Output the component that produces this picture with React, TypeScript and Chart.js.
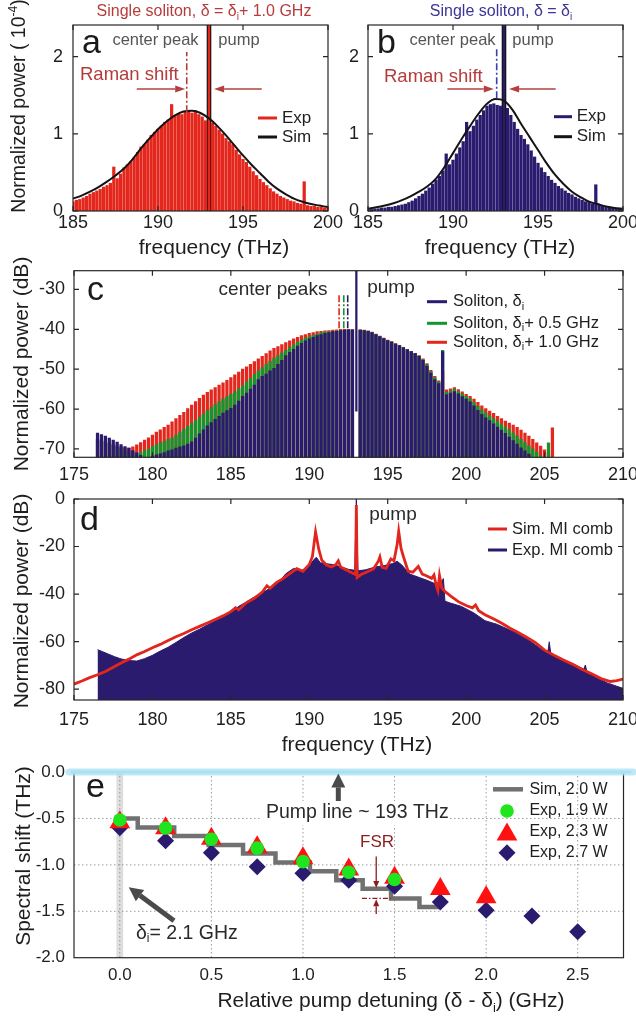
import React, { useEffect, useRef } from 'react';
import { Chart, registerables } from 'chart.js';

Chart.register(...registerables);

const FONT = "'Liberation Sans', Arial, Helvetica, sans-serif";

// ---------------- colours ----------------
const RED = '#e4271d';
const NAVY = '#2b1b6e';
const GREEN = '#15942e';
const SIM_BLACK = '#141414';
const ANNOT_RED = '#b53b3b';
const TXT = '#1e1e1e';

// ---------------- panels a & b (linear power, 1e-4) ----------------
const AB_START = 185;
const AB_STEP = 0.2;
const PUMP_THZ = 193;
const AB_PUMP_LEVEL = 2.6;
const AB_X_TICKS = [185, 190, 195, 200];
const AB_Y_TICKS = [0, 1, 2];

const aExp = [
  0.12, 0.14, 0.15, 0.17, 0.19, 0.22, 0.24, 0.26, 0.28, 0.31,
  0.33, 0.36, 0.57, 0.42, 0.48, 0.56, 0.60, 0.64, 0.69, 0.76,
  0.83, 0.86, 0.92, 0.98, 1.02, 1.06, 1.10, 1.15, 1.18, 1.38,
  1.24, 1.26, 1.25, 1.28, 1.30, 1.27, 1.30, 1.25, 1.22, 1.17,
  null, 1.14, 1.10, 1.05, 1.00, 0.94, 0.90, 0.86, 0.79, 0.73,
  0.67, 0.63, 0.57, 0.51, 0.46, 0.41, 0.37, 0.33, 0.29, 0.25,
  0.22, 0.19, 0.17, 0.15, 0.13, 0.12, 0.10, 0.09, 0.38, 0.07,
  0.06, 0.06, 0.05, 0.05, 0.04, 0.04,
];
const bExp = [
  0.02, 0.02, 0.03, 0.03, 0.04, 0.04, 0.05, 0.05, 0.06, 0.07,
  0.08, 0.09, 0.11, 0.13, 0.16, 0.19, 0.22, 0.26, 0.30, 0.35,
  0.40, 0.45, 0.52, 0.74, 0.60, 0.66, 0.74, 0.82, 0.90, 1.15,
  1.03, 1.10, 1.18, 1.24, 1.30, 1.36, 1.38, 1.39, 1.37, 1.36,
  null, 1.33, 1.24, 1.15, 1.06, 0.98, 0.93, 0.86, 0.78, 0.70,
  0.62, 0.56, 0.50, 0.45, 0.40, 0.36, 0.32, 0.29, 0.26, 0.23,
  0.21, 0.18, 0.16, 0.14, 0.12, 0.11, 0.09, 0.34, 0.08, 0.07,
  0.06, 0.05, 0.04, 0.03, 0.03, 0.02,
];
const SIM_FREQ = [
  185, 185.5, 186, 186.5, 187, 187.5, 188, 188.5, 189, 189.5, 190, 190.5, 191, 191.5, 192, 192.5,
  193, 193.5, 194, 194.5, 195, 195.5, 196, 196.5, 197, 197.5, 198, 198.5, 199, 199.5, 200,
];
const aSim = [
  0.16, 0.20, 0.25, 0.31, 0.38, 0.46, 0.55, 0.67, 0.81, 0.94, 1.06, 1.16, 1.24, 1.29, 1.30, 1.27,
  1.20, 1.10, 0.98, 0.85, 0.72, 0.60, 0.49, 0.38, 0.29, 0.22, 0.16, 0.12, 0.09, 0.07, 0.05,
];
const bSim = [
  0.03, 0.05, 0.07, 0.10, 0.14, 0.19, 0.25, 0.32, 0.42, 0.57, 0.75, 0.93, 1.10, 1.26, 1.39, 1.45,
  1.43, 1.31, 1.13, 0.96, 0.79, 0.62, 0.47, 0.35, 0.25, 0.18, 0.12, 0.09, 0.06, 0.04, 0.03,
];
const aCenterPeak = 191.69;
const bCenterPeak = 192.57;

// ---------------- panel c (dB) ----------------
const C_START = 176.5;
const C_STEP = 0.25;
const C_FLOOR = -80;
const C_PUMP_TOP = -20;
const C_PUMP_NOTCH = -60.5;
const CD_X_TICKS = [175, 180, 185, 190, 195, 200, 205, 210];
const C_Y_TICKS = [-70, -60, -50, -40, -30];

const cSoliton = [
  -66.0, -66.4, -66.8, -67.3, -67.8, -68.3, -68.9, -69.4, -69.8, -70.4, -71.0, -71.6, null, null,
  -71.8, -71.5, -71.2, -70.9, -70.5, -70.2, -69.8, -69.5, -69.2, -68.8, -68.2, -67.3, -66.2, -65.2, -64.2, -63.4, -62.6, -61.8, -61.0, -60.4,
  -59.8, -59.0, -58.0, -56.8, -56.0, -55.0, -54.0, -52.6, -51.8, -51.2, -50.4, -49.8, -48.8, -47.8, -46.6, -45.8, -45.0, -44.2, -43.5, -42.9,
  -42.4, -42.0, -41.6, -41.3, -41.0, -40.8, -40.6, -40.5, -40.3, -40.2, -40.1, -40.2,
  null,
  -40.2, -40.3, -40.5, -40.8, -41.3, -41.8, -42.3, -42.8, -43.2, -43.7, -44.1, -44.6, -45.1, -45.6, -46.1, -46.8, -47.8, -49.2, -51.0, -52.6, -53.6, -45.6, -56.4, -56.0, -55.6, -56.2, -56.9,
  -57.5, -58.2, -59.2, -60.3, -61.3, -62.2, -62.9, -63.7, -64.5, -65.3, -66.1, -67.0, -67.9, -68.8, -69.7, -70.5, -71.3, null, null, null, null, null, null,
];
const cSoliton05 = [
  -67.6, -67.9, -68.2, -68.6, -69.0, -69.4, -69.8, -70.2, -70.6, -70.9, -71.1, -70.9, -70.4, -70.0,
  -69.4, -69.0, -68.5, -68.1, -67.6, -67.2, -66.6, -65.8, -65.0, -64.3, -63.6, -62.8, -62.0, -61.2, -60.3, -59.6, -58.9, -58.2, -57.5, -56.9,
  -56.3, -55.6, -54.9, -54.2, -53.2, -52.3, -51.3, -50.4, -49.6, -48.8, -48.0, -47.2, -46.6, -45.9, -45.2, -44.5, -43.8, -43.2, -42.7, -42.2,
  -41.8, -41.5, -41.2, -40.9, -40.7, -40.6, -40.5, -40.4, -40.3, -40.2, -40.1, -40.1,
  null,
  -40.2, -40.3, -40.5, -40.8, -41.3, -41.8, -42.3, -42.8, -43.2, -43.7, -44.1, -44.6, -45.1, -45.6, -46.1, -46.7, -47.6, -48.9, -50.6, -52.1, -53.2, -45.3, -55.8, -55.5, -55.0, -55.6, -56.2,
  -56.8, -57.4, -58.3, -59.3, -60.2, -61.0, -61.7, -62.4, -63.1, -63.8, -64.5, -65.2, -66.0, -66.8, -67.6, -68.4, -69.2, -70.0, -70.8, -71.8, null, -68.5, null,
];
const cSoliton10 = [
  -67.6, -67.9, -68.2, -68.5, -68.9, -69.2, -69.5, -69.7, -69.8, -69.5, -69.0, -68.4, -67.8, -67.2,
  -66.5, -65.8, -65.2, -64.6, -64.0, -63.2, -62.4, -61.6, -60.8, -59.9, -59.0, -58.1, -57.3, -56.5, -55.8, -55.2, -54.6, -54.0, -53.4, -52.8,
  -52.1, -51.4, -50.7, -50.0, -49.4, -48.8, -48.1, -47.4, -46.8, -46.1, -45.4, -44.8, -44.3, -43.8, -43.3, -42.9, -42.4, -42.0, -41.6, -41.3,
  -41.0, -40.8, -40.6, -40.5, -40.4, -40.3, -40.2, -40.1, -40.0, -40.0, -40.0, -40.0,
  null,
  -40.1, -40.2, -40.4, -40.7, -41.2, -41.7, -42.2, -42.7, -43.1, -43.6, -44.0, -44.5, -45.0, -45.5, -46.0, -46.6, -47.4, -48.6, -50.3, -51.8, -52.9, -50.5, -55.2, -54.9, -54.6, -55.1, -55.7,
  -56.3, -56.8, -57.5, -58.3, -59.2, -59.9, -60.5, -61.1, -61.8, -62.4, -63.0, -63.5, -64.0, -64.6, -65.3, -66.0, -66.8, -67.6, -68.5, -69.3, -70.2, -71.0, -64.7,
];
// centre-peak markers: delta_i + 1.0 GHz, delta_i + 0.5 GHz, delta_i
const cCenterPeaks = [191.9, 192.2, 192.45];

// ---------------- panel d (dB) ----------------
const D_Y_TICKS = [-80, -60, -40, -20, 0];
const dExpFreq = [
  176.5, 176.8, 177.2, 177.6, 178.0, 178.5, 179.0, 179.5, 180.0, 180.5, 181.0, 181.5, 182.0, 182.5, 183.0, 183.5,
  184.0, 184.5, 185.0, 185.5, 186.0, 186.5, 187.0, 187.5, 188.0, 188.5, 189.0, 189.5, 190.0, 190.3, 190.45, 190.7,
  191.0, 191.5, 192.0, 192.5, 192.9, 193.0, 193.1, 193.6, 194.2, 194.8, 195.3, 195.6, 195.9, 196.4, 197.0, 197.5,
  198.0, 198.4, 198.55, 198.65, 199.0, 199.7, 200.5, 201.2, 202.0, 202.6, 203.2, 204.0, 204.8, 205.2, 205.3, 205.4,
  206.0, 206.8, 207.5, 207.6, 207.7, 208.3, 209.0, 209.6, 210.0,
];
const dExpPow = [
  -63.4, -64.2, -65.3, -66.4, -67.3, -68.0, -68.2, -67.2, -65.8, -64.0, -62.4, -60.4, -58.3, -56.4, -54.8, -53.0,
  -51.4, -49.6, -47.8, -45.2, -43.3, -41.2, -39.5, -37.6, -35.5, -31.5, -29.2, -30.2, -28.0, -25.5, -24.5, -26.8,
  -27.2, -27.6, -28.5, -29.6, -30.0, 0, -30.2, -29.8, -28.6, -28.0, -27.2, -26.2, -27.8, -31.6, -33.0, -34.2,
  -35.6, -35.0, -33.5, -43.0, -43.8, -45.2, -48.0, -51.2, -52.8, -54.6, -56.4, -59.5, -63.2, -64.8, -60.1, -65.3,
  -67.0, -69.5, -71.6, -69.9, -72.8, -75.2, -77.4, -78.8, -79.7,
];
const dSimFreq = [
  175.0, 175.5, 176.0, 176.5, 177.0, 177.5, 178.0, 178.5, 179.0, 179.5,
  180.0, 180.5, 181.0, 181.5, 182.0, 182.5, 183.0, 183.5, 184.0, 184.5,
  185.0, 185.3, 185.5, 186.0, 186.5, 187.0, 187.3, 187.5, 187.9, 188.3,
  188.8, 189.2, 189.6, 190.0, 190.2, 190.4, 190.6, 190.8, 191.1, 191.4,
  191.7, 191.85, 192.0, 192.4, 192.8, 192.95, 193.0, 193.05, 193.3, 193.7,
  194.1, 194.4, 194.5, 194.65, 194.9, 195.2, 195.4, 195.6, 195.7, 195.85,
  196.0, 196.3, 196.6, 196.95, 197.2, 197.5, 197.8, 197.95, 198.1, 198.2,
  198.3, 198.45, 198.7, 199.0, 199.5, 200.0, 200.4, 200.6, 200.8, 201.2,
  201.8, 202.3, 202.8, 203.2, 203.8, 204.4, 205.0, 205.6, 206.2, 206.8,
  207.4, 208.0, 208.6, 209.2, 209.6, 210.0,
];
const dSimPow = [
  -77.9, -76.6, -75.2, -74.0, -72.6, -70.8, -69.0, -67.4, -65.6, -64.2,
  -62.6, -61.2, -59.6, -58.0, -56.6, -55.0, -53.6, -52.2, -50.7, -49.2,
  -47.4, -45.8, -46.6, -43.6, -41.8, -39.2, -36.5, -37.6, -35.2, -33.6,
  -31.2, -29.3, -30.4, -27.6, -24.2, -13.8, -21.0, -25.8, -27.8, -28.6,
  -27.6, -26.0, -28.6, -30.0, -31.4, -31.8, -2.5, -33.0, -31.8, -30.6,
  -29.4, -26.2, -24.4, -28.8, -29.2, -25.2, -26.0, -19.2, -13.6, -20.8,
  -24.2, -30.4, -30.8, -28.4, -31.6, -32.4, -33.4, -32.0, -36.6, -38.6,
  -32.2, -37.6, -39.2, -40.8, -43.2, -44.8, -45.8, -44.6, -47.0, -48.7,
  -50.6, -52.4, -54.4, -55.8, -58.0, -60.4, -63.6, -65.8, -67.8, -69.6,
  -71.8, -73.6, -75.6, -76.8, -76.4, -75.8,
];

// ---------------- panel e ----------------
const E_X_TICKS = [0, 0.5, 1, 1.5, 2, 2.5];
const E_Y_TICKS = [-2, -1.5, -1, -0.5, 0];
const eDetuning = [0, 0.25, 0.5, 0.75, 1, 1.25, 1.5, 1.75, 2, 2.25, 2.5];
const eExp19 = [-0.517, -0.603, -0.724, -0.82, -0.965, -1.079, -1.158];
const eExp23 = [-0.54, -0.607, -0.72, -0.81, -0.93, -1.05, -1.14, -1.26, -1.35];
const eExp27 = [-0.60, -0.74, -0.87, -1.02, -1.09, -1.165, -1.23, -1.40, -1.49, -1.55, -1.72];
const eSimDetuning = [-0.02, 0.098, 0.297, 0.485, 0.673, 0.85, 1.038, 1.182, 1.326, 1.481, 1.636, 1.747];
const eSimShift = [-0.5, -0.597, -0.69, -0.786, -0.879, -0.975, -1.068, -1.165, -1.258, -1.362, -1.455, -1.455];

// ---------------- helpers ----------------
type Seg = { t: string; s?: 'sub' | 'sup' };

function combGrid(start: number, step: number, n: number): number[] {
  const out: number[] = [];
  for (let i = 0; i < n; i++) out.push(Math.round((start + i * step) * 1000) / 1000);
  return out;
}
function bars(freq: number[], vals: (number | null)[]) {
  const out: any[] = [];
  vals.forEach((v, i) => { if (v !== null) out.push({ x: freq[i], y: v }); });
  return out;
}
function floatBars(freq: number[], vals: (number | null)[], floor: number) {
  const out: any[] = [];
  vals.forEach((v, i) => { if (v !== null) out.push({ x: freq[i], y: [floor, v] }); });
  return out;
}
function xy(xs: number[], ys: number[]) {
  return ys.map((y, i) => ({ x: xs[i], y }));
}

function rich(ctx: any, segs: Seg[], x: number, y: number, size: number, color: string, align: string = 'left') {
  ctx.save();
  const big = `${size}px ${FONT}`;
  const small = `${Math.round(size * 0.64)}px ${FONT}`;
  let w = 0;
  for (const sg of segs) { ctx.font = sg.s ? small : big; w += ctx.measureText(sg.t).width; }
  let cx = align === 'center' ? x - w / 2 : align === 'right' ? x - w : x;
  ctx.textAlign = 'left';
  ctx.textBaseline = 'middle';
  ctx.fillStyle = color;
  for (const sg of segs) {
    ctx.font = sg.s ? small : big;
    const dy = sg.s === 'sub' ? size * 0.3 : sg.s === 'sup' ? -size * 0.33 : 0;
    ctx.fillText(sg.t, cx, y + dy);
    cx += ctx.measureText(sg.t).width;
  }
  ctx.restore();
  return w;
}
function vrich(ctx: any, segs: Seg[], cx: number, cy: number, size: number, color: string) {
  ctx.save();
  ctx.translate(cx, cy);
  ctx.rotate(-Math.PI / 2);
  rich(ctx, segs, 0, 0, size, color, 'center');
  ctx.restore();
}
function letter(ctx: any, ch: string, x: number, baseline: number) {
  ctx.save();
  ctx.font = `34px ${FONT}`;
  ctx.fillStyle = '#1a1a1a';
  ctx.textAlign = 'left';
  ctx.textBaseline = 'alphabetic';
  ctx.fillText(ch, x, baseline);
  ctx.restore();
}
function line(ctx: any, x1: number, y1: number, x2: number, y2: number, color: string, lw: number, dash: number[] = [], cap = 'butt') {
  ctx.save();
  ctx.strokeStyle = color;
  ctx.lineWidth = lw;
  ctx.lineCap = cap;
  ctx.setLineDash(dash);
  ctx.beginPath();
  ctx.moveTo(x1, y1);
  ctx.lineTo(x2, y2);
  ctx.stroke();
  ctx.restore();
}
function arrow(ctx: any, x1: number, y1: number, x2: number, y2: number, color: string, lw: number, hl: number, hw: number) {
  const a = Math.atan2(y2 - y1, x2 - x1);
  const bx = x2 - Math.cos(a) * hl;
  const by = y2 - Math.sin(a) * hl;
  line(ctx, x1, y1, bx, by, color, lw);
  ctx.save();
  ctx.fillStyle = color;
  ctx.beginPath();
  ctx.moveTo(x2, y2);
  ctx.lineTo(bx + Math.sin(a) * hw / 2, by - Math.cos(a) * hw / 2);
  ctx.lineTo(bx - Math.sin(a) * hw / 2, by + Math.cos(a) * hw / 2);
  ctx.closePath();
  ctx.fill();
  ctx.restore();
}
function frame(chart: any, xt: number[], yt: number[], tickLen: number) {
  const { ctx, chartArea: a, scales } = chart;
  ctx.save();
  ctx.strokeStyle = '#262626';
  ctx.lineWidth = 1.2;
  ctx.setLineDash([]);
  ctx.strokeRect(a.left, a.top, a.right - a.left, a.bottom - a.top);
  if (tickLen > 0) {
    ctx.beginPath();
    for (const v of xt) {
      const p = scales.x.getPixelForValue(v);
      ctx.moveTo(p, a.bottom); ctx.lineTo(p, a.bottom - tickLen);
      ctx.moveTo(p, a.top); ctx.lineTo(p, a.top + tickLen);
    }
    for (const v of yt) {
      const p = scales.y.getPixelForValue(v);
      ctx.moveTo(a.left, p); ctx.lineTo(a.left + tickLen, p);
      ctx.moveTo(a.right, p); ctx.lineTo(a.right - tickLen, p);
    }
    ctx.stroke();
  }
  ctx.restore();
}

function xAxis(min: number, max: number, ticks: number[], height: number, pad: number, size: number, fmt = (v: number) => String(v)) {
  return {
    type: 'linear', min, max, offset: false,
    grid: { display: false, drawTicks: false, tickLength: 0 }, border: { display: false },
    afterBuildTicks: (s: any) => { s.ticks = ticks.map((v) => ({ value: v })); },
    afterFit: (s: any) => { s.height = height; s.paddingLeft = 0; s.paddingRight = 0; },
    ticks: { padding: pad, autoSkip: false, maxRotation: 0, minRotation: 0, color: TXT, font: { family: FONT, size }, callback: (v: any) => fmt(Number(v)) },
  };
}
function yAxis(min: number, max: number, ticks: number[], width: number, pad: number, size: number, fmt = (v: number) => String(v)) {
  return {
    type: 'linear', min, max,
    grid: { display: false, drawTicks: false, tickLength: 0 }, border: { display: false },
    afterBuildTicks: (s: any) => { s.ticks = ticks.map((v) => ({ value: v })); },
    afterFit: (s: any) => { s.width = width; s.paddingTop = 0; s.paddingBottom = 0; },
    ticks: { padding: pad, autoSkip: false, color: TXT, font: { family: FONT, size }, callback: (v: any) => fmt(Number(v)) },
  };
}
function baseOptions(padding: any, x: any, y: any) {
  return {
    responsive: false, maintainAspectRatio: false, animation: false, events: [],
    layout: { padding },
    plugins: { legend: { display: false }, tooltip: { enabled: false }, title: { display: false } },
    scales: { x, y },
  };
}

// ---------------- panel builders ----------------
function panelAB(which: 'a' | 'b', ox: number, oy: number) {
  const isA = which === 'a';
  const exp = isA ? aExp : bExp;
  const sim = isA ? aSim : bSim;
  const col = isA ? RED : NAVY;
  const freq = combGrid(AB_START, AB_STEP, exp.length);
  const padding = isA ? { left: 0, top: 25, right: 17, bottom: 0 } : { left: 0, top: 25, right: 13, bottom: 0 };
  const yw = isA ? 73 : 23;
  const ypad = isA ? 10 : 9;
  return {
    type: 'bar',
    data: {
      datasets: [
        { type: 'line', label: 'Sim', data: xy(SIM_FREQ, sim), borderColor: SIM_BLACK, borderWidth: 2, pointRadius: 0, tension: 0.4, cubicInterpolationMode: 'monotone', fill: false },
        { type: 'bar', label: 'Exp pump', data: [{ x: PUMP_THZ, y: AB_PUMP_LEVEL }], backgroundColor: col, barThickness: 1.6, grouped: false },
        { type: 'bar', label: 'Exp', data: bars(freq, exp), backgroundColor: col, barThickness: 2.6, grouped: false },
        { type: 'line', label: 'Sim pump', data: [{ x: PUMP_THZ, y: 0 }, { x: PUMP_THZ, y: AB_PUMP_LEVEL }], borderColor: SIM_BLACK, borderWidth: 4.6, pointRadius: 0, fill: false },
      ],
    },
    options: baseOptions(padding, xAxis(185, 200, AB_X_TICKS, 51, 1, 18), yAxis(0, 2.41, AB_Y_TICKS, yw, ypad, 18)),
    plugins: [{
      id: 'deco' + which,
      afterDatasetsDraw(chart: any) {
        const { ctx, scales: { x, y } } = chart;
        const X = (v: number) => x.getPixelForValue(v);
        const Y = (v: number) => y.getPixelForValue(v);
        frame(chart, AB_X_TICKS, AB_Y_TICKS, 5);
        const cp = isA ? aCenterPeak : bCenterPeak;
        const cpTop = isA ? 2.06 : 2.1;
        const cpBot = isA ? 1.28 : 1.46;
        line(ctx, X(cp), Y(cpBot), X(cp), Y(cpTop), isA ? ANNOT_RED : '#3b40b0', 1.6, [7, 2.5, 2, 2.5]);
        const l0 = isA ? 188.75 : 189.67;
        const l1 = isA ? 191.6 : 192.4;
        const r0 = isA ? 196.1 : 196.04;
        arrow(ctx, X(l0), Y(1.58), X(l1), Y(1.58), '#b3403f', 1.6, 10, 7);
        arrow(ctx, X(r0), Y(1.58), X(193.3), Y(1.58), '#b3403f', 1.6, 10, 7);
        // texts (page coordinates)
        if (isA) {
          rich(ctx, [{ t: 'Single soliton, δ = δ' }, { t: 'i', s: 'sub' }, { t: '+ 1.0 GHz' }], 204 - ox, 12 - oy, 16, '#b83b3b', 'center');
          vrich(ctx, [{ t: 'Normalized power ( 10' }, { t: '-4', s: 'sup' }, { t: ')' }], 20 - ox, 106 - oy, 19.5, TXT);
          letter(ctx, 'a', 82 - ox, 53 - oy);
          rich(ctx, [{ t: 'center peak' }], 155.5 - ox, 40 - oy, 16.5, '#555', 'center');
          rich(ctx, [{ t: 'pump' }], 239 - ox, 40 - oy, 16.5, '#555', 'center');
          rich(ctx, [{ t: 'Raman shift' }], 80 - ox, 75 - oy, 18.5, ANNOT_RED, 'left');
          rich(ctx, [{ t: 'frequency (THz)' }], 214 - ox, 248 - oy, 21, TXT, 'center');
          line(ctx, 258 - ox, 118 - oy, 277 - ox, 118 - oy, RED, 3);
          line(ctx, 258 - ox, 137 - oy, 277 - ox, 137 - oy, SIM_BLACK, 3);
          rich(ctx, [{ t: 'Exp' }], 282 - ox, 118 - oy, 17, TXT);
          rich(ctx, [{ t: 'Sim' }], 282 - ox, 137 - oy, 17, TXT);
        } else {
          rich(ctx, [{ t: 'Single soliton, δ = δ' }, { t: 'i', s: 'sub' }], 501 - ox, 12 - oy, 16, '#3b3597', 'center');
          letter(ctx, 'b', 377 - ox, 53 - oy);
          rich(ctx, [{ t: 'center peak' }], 452.5 - ox, 40 - oy, 16.5, '#555', 'center');
          rich(ctx, [{ t: 'pump' }], 533 - ox, 40 - oy, 16.5, '#555', 'center');
          rich(ctx, [{ t: 'Raman shift' }], 384 - ox, 76.7 - oy, 18.5, ANNOT_RED, 'left');
          rich(ctx, [{ t: 'frequency (THz)' }], 500 - ox, 248 - oy, 21, TXT, 'center');
          line(ctx, 554 - ox, 116.7 - oy, 572 - ox, 116.7 - oy, NAVY, 3);
          line(ctx, 554 - ox, 136.7 - oy, 572 - ox, 136.7 - oy, SIM_BLACK, 3);
          rich(ctx, [{ t: 'Exp' }], 576.7 - ox, 116.7 - oy, 17, TXT);
          rich(ctx, [{ t: 'Sim' }], 576.7 - ox, 136.7 - oy, 17, TXT);
        }
      },
    }],
  };
}

function panelC(ox: number, oy: number) {
  const freq = combGrid(C_START, C_STEP, cSoliton.length);
  return {
    type: 'bar',
    data: {
      datasets: [
        { type: 'bar', label: 'Soliton pump', data: [{ x: PUMP_THZ, y: [C_PUMP_NOTCH, C_PUMP_TOP] }], backgroundColor: NAVY, barThickness: 1.6, grouped: false },
        { type: 'bar', label: 'Soliton, δi', data: floatBars(freq, cSoliton, C_FLOOR), backgroundColor: NAVY, barThickness: 2.6, grouped: false },
        { type: 'bar', label: 'Soliton, δi + 0.5 GHz', data: floatBars(freq, cSoliton05, C_FLOOR), backgroundColor: GREEN, barThickness: 2.6, grouped: false },
        { type: 'bar', label: 'Soliton, δi + 1.0 GHz', data: floatBars(freq, cSoliton10, C_FLOOR), backgroundColor: RED, barThickness: 2.6, grouped: false },
      ],
    },
    options: baseOptions({ left: 0, top: 270.7 - oy, right: 13, bottom: 0 }, xAxis(175, 210, CD_X_TICKS, 32.7, 6.9, 18), yAxis(-72.1, -25.3, C_Y_TICKS, 74, 9, 18)),
    plugins: [{
      id: 'decoC',
      afterDatasetsDraw(chart: any) {
        const { ctx, scales: { x, y } } = chart;
        frame(chart, CD_X_TICKS, C_Y_TICKS, 5);
        const cols = [RED, GREEN, NAVY];
        cCenterPeaks.forEach((f, i) => {
          line(ctx, x.getPixelForValue(f), y.getPixelForValue(-39.75), x.getPixelForValue(f), y.getPixelForValue(-31.4), cols[i], 1.6, [7, 2, 2, 2]);
        });
        letter(ctx, 'c', 87 - ox, 300 - oy);
        rich(ctx, [{ t: 'center peaks' }], 273 - ox, 290 - oy, 19, '#2a2a2a', 'center');
        rich(ctx, [{ t: 'pump' }], 391 - ox, 288 - oy, 19, '#2a2a2a', 'center');
        const ly = [301.7, 323.3, 342.3];
        const lc = [NAVY, GREEN, RED];
        const lt: Seg[][] = [
          [{ t: 'Soliton, δ' }, { t: 'i', s: 'sub' }],
          [{ t: 'Soliton, δ' }, { t: 'i', s: 'sub' }, { t: '+ 0.5 GHz' }],
          [{ t: 'Soliton, δ' }, { t: 'i', s: 'sub' }, { t: '+ 1.0 GHz' }],
        ];
        ly.forEach((py, i) => {
          line(ctx, 427 - ox, py - oy, 447 - ox, py - oy, lc[i], 3);
          rich(ctx, lt[i], 453 - ox, py - oy, 16.5, TXT);
        });
        vrich(ctx, [{ t: 'Normalized power (dB)' }], 22 - ox, 364 - oy, 21, TXT);
      },
    }],
  };
}

function panelD(ox: number, oy: number) {
  return {
    type: 'line',
    data: {
      datasets: [
        { label: 'Sim. MI comb', data: xy(dSimFreq, dSimPow), borderColor: '#e2261d', borderWidth: 2.8, pointRadius: 0, tension: 0, fill: false },
        { label: 'Exp. MI comb', data: xy(dExpFreq, dExpPow), borderColor: NAVY, backgroundColor: NAVY, borderWidth: 1, pointRadius: 0, tension: 0, fill: 'start' },
      ],
    },
    options: baseOptions({ left: 0, top: 9, right: 13, bottom: 0 }, xAxis(175, 210, CD_X_TICKS, 60, 9.2, 18), yAxis(-84.6, 0, D_Y_TICKS, 74, 9, 18)),
    plugins: [{
      id: 'decoD',
      afterDatasetsDraw(chart: any) {
        const { ctx } = chart;
        frame(chart, CD_X_TICKS, D_Y_TICKS, 5);
        letter(ctx, 'd', 80 - ox, 530 - oy);
        rich(ctx, [{ t: 'pump' }], 393 - ox, 515 - oy, 19, '#2a2a2a', 'center');
        line(ctx, 488 - ox, 529 - oy, 507 - ox, 529 - oy, '#e2261d', 3);
        line(ctx, 488 - ox, 550 - oy, 507 - ox, 550 - oy, NAVY, 3);
        rich(ctx, [{ t: 'Sim. MI comb' }], 512 - ox, 529 - oy, 16.5, TXT);
        rich(ctx, [{ t: 'Exp. MI comb' }], 512 - ox, 550 - oy, 16.5, TXT);
        vrich(ctx, [{ t: 'Normalized power (dB)' }], 22 - ox, 601 - oy, 21, TXT);
        rich(ctx, [{ t: 'frequency (THz)' }], 357 - ox, 745 - oy, 21, TXT, 'center');
      },
    }],
  };
}

function drawTriangle(ctx: any, x: number, y: number, r: number, color: string) {
  ctx.save();
  ctx.fillStyle = color;
  ctx.beginPath();
  ctx.moveTo(x, y - r);
  ctx.lineTo(x + r * Math.sin(2 * Math.PI / 3), y + r / 2);
  ctx.lineTo(x - r * Math.sin(2 * Math.PI / 3), y + r / 2);
  ctx.closePath();
  ctx.fill();
  ctx.restore();
}

function panelE(ox: number, oy: number) {
  const G19 = '#1fe51f';
  const R23 = '#ff1111';
  return {
    type: 'scatter',
    data: {
      datasets: [
        { label: 'Exp, 1.9 W', data: xy(eDetuning, eExp19), pointStyle: 'circle', pointRadius: 6.8, backgroundColor: G19, borderWidth: 0 },
        { label: 'Exp, 2.3 W', data: xy(eDetuning, eExp23), pointStyle: 'triangle', pointRadius: 12, backgroundColor: R23, borderWidth: 0 },
        { label: 'Exp, 2.7 W', data: xy(eDetuning, eExp27), pointStyle: 'rectRot', pointRadius: 8.5, backgroundColor: NAVY, borderWidth: 0 },
        { type: 'line', label: 'Sim, 2.0 W', data: xy(eSimDetuning, eSimShift), stepped: 'before', borderColor: '#717171', borderWidth: 4.5, pointRadius: 0, fill: false },
      ],
    },
    options: baseOptions({ left: 0, top: 5, right: 12.5, bottom: 0 },
      xAxis(-0.25, 2.75, E_X_TICKS, 66.3, 7.1, 17, (v) => v.toFixed(1)),
      yAxis(-2, 0, E_Y_TICKS, 74, 9, 17, (v) => v.toFixed(1))),
    plugins: [{
      id: 'decoE',
      beforeDatasetsDraw(chart: any) {
        const { ctx, chartArea: a, scales: { x, y } } = chart;
        ctx.save();
        const x0 = x.getPixelForValue(0);
        ctx.fillStyle = '#dedede';
        ctx.fillRect(x0 - 3.4, a.top, 6.8, a.bottom - a.top);
        ctx.strokeStyle = '#9a9a9a';
        ctx.lineWidth = 1;
        ctx.setLineDash([1.5, 2.5]);
        ctx.beginPath();
        for (const v of E_X_TICKS) { const p = x.getPixelForValue(v); ctx.moveTo(p, a.top); ctx.lineTo(p, a.bottom); }
        for (const v of E_Y_TICKS) {
          if (v <= -2 || v >= 0) continue;
          const p = y.getPixelForValue(v);
          ctx.moveTo(a.left, p); ctx.lineTo(a.right, p);
        }
        ctx.stroke();
        ctx.restore();
      },
      afterDatasetsDraw(chart: any) {
        const { ctx, scales: { x, y } } = chart;
        const X = (v: number) => x.getPixelForValue(v);
        const Y = (v: number) => y.getPixelForValue(v);
        frame(chart, [], [], 0);
        // pump line (0 THz shift) highlight
        line(ctx, 69 - ox, Y(0), 633 - ox, Y(0), 'rgba(170,226,244,0.75)', 7, [], 'round');
        line(ctx, 72 - ox, Y(0), 630 - ox, Y(0), '#a9e1f3', 3, [], 'round');
        // pump arrow + text
        arrow(ctx, X(1.193), Y(-0.38), X(1.193), Y(-0.015), '#4a4a4a', 5, 14, 14);
        ctx.save();
        ctx.fillStyle = '#ffffff';
        ctx.fillRect(262 - ox, 801 - oy, 188, 24);
        ctx.restore();
        rich(ctx, [{ t: 'Pump line ~ 193 THz' }], 266 - ox, 813 - oy, 19.5, '#2a2a2a');
        // FSR
        rich(ctx, [{ t: 'FSR' }], 377 - ox, 842.7 - oy, 17, '#8b1e1e', 'center');
        arrow(ctx, X(1.4), Y(-0.91), X(1.4), Y(-1.25), '#8b1e1e', 1.3, 7, 6);
        arrow(ctx, X(1.4), Y(-1.53), X(1.4), Y(-1.37), '#8b1e1e', 1.3, 7, 6);
        line(ctx, X(1.322), Y(-1.362), X(1.48), Y(-1.362), '#8b1e1e', 1.3, [5, 2, 1.5, 2]);
        // delta_i arrow + text
        arrow(ctx, X(0.296), Y(-1.603), X(0.049), Y(-1.241), '#4a4a4a', 5, 14, 14);
        rich(ctx, [{ t: 'δ' }, { t: 'i', s: 'sub' }, { t: '= 2.1 GHz' }], 136 - ox, 933.3 - oy, 19.5, '#2a2a2a');
        letter(ctx, 'e', 86 - ox, 797 - oy);
        // legend
        line(ctx, 493 - ox, 789.3 - oy, 523 - ox, 789.3 - oy, '#717171', 4.5);
        ctx.save();
        ctx.fillStyle = '#1fe51f';
        ctx.beginPath(); ctx.arc(507 - ox, 811 - oy, 6.8, 0, Math.PI * 2); ctx.fill();
        ctx.fillStyle = NAVY;
        ctx.beginPath();
        ctx.moveTo(507 - ox - 8.5, 852.7 - oy); ctx.lineTo(507 - ox, 852.7 - oy - 8.5);
        ctx.lineTo(507 - ox + 8.5, 852.7 - oy); ctx.lineTo(507 - ox, 852.7 - oy + 8.5);
        ctx.closePath(); ctx.fill();
        ctx.restore();
        drawTriangle(ctx, 507 - ox, 834.5 - oy, 12, '#ff1111');
        rich(ctx, [{ t: 'Sim, 2.0 W' }], 529.4 - ox, 789.3 - oy, 16, TXT);
        rich(ctx, [{ t: 'Exp, 1.9 W' }], 529.4 - ox, 811 - oy, 16, TXT);
        rich(ctx, [{ t: 'Exp, 2.3 W' }], 529.4 - ox, 831.7 - oy, 16, TXT);
        rich(ctx, [{ t: 'Exp, 2.7 W' }], 529.4 - ox, 852.7 - oy, 16, TXT);
        // axis titles
        vrich(ctx, [{ t: 'Spectral shift (THz)' }], 24 - ox, 856 - oy, 21, TXT);
        rich(ctx, [{ t: 'Relative pump detuning (δ - δ' }, { t: 'i', s: 'sub' }, { t: ') (GHz)' }], 391 - ox, 1001.7 - oy, 21, TXT, 'center');
      },
    }],
  };
}

const PANELS = [
  { left: 0, top: 0, width: 345, height: 262, build: (ox: number, oy: number) => panelAB('a', ox, oy) },
  { left: 345, top: 0, width: 291, height: 262, build: (ox: number, oy: number) => panelAB('b', ox, oy) },
  { left: 0, top: 240, width: 636, height: 250, build: panelC },
  { left: 0, top: 490, width: 636, height: 270, build: panelD },
  { left: 0, top: 760, width: 636, height: 264, build: panelE },
];

export default function App() {
  const refs = useRef<(HTMLCanvasElement | null)[]>([]);
  useEffect(() => {
    const charts: Chart[] = [];
    PANELS.forEach((p, i) => {
      const el = refs.current[i];
      if (el) charts.push(new Chart(el, p.build(p.left, p.top) as any));
    });
    return () => { charts.forEach((c) => c.destroy()); };
  }, []);
  return (
    <div style={{ position: 'absolute', left: 0, top: 0, width: 636, height: 1024, background: '#ffffff', overflow: 'hidden' }}>
      {PANELS.map((p, i) => (
        <canvas
          key={i}
          ref={(el) => { refs.current[i] = el; }}
          width={p.width}
          height={p.height}
          style={{ position: 'absolute', left: p.left, top: p.top, width: p.width, height: p.height }}
        />
      ))}
    </div>
  );
}
